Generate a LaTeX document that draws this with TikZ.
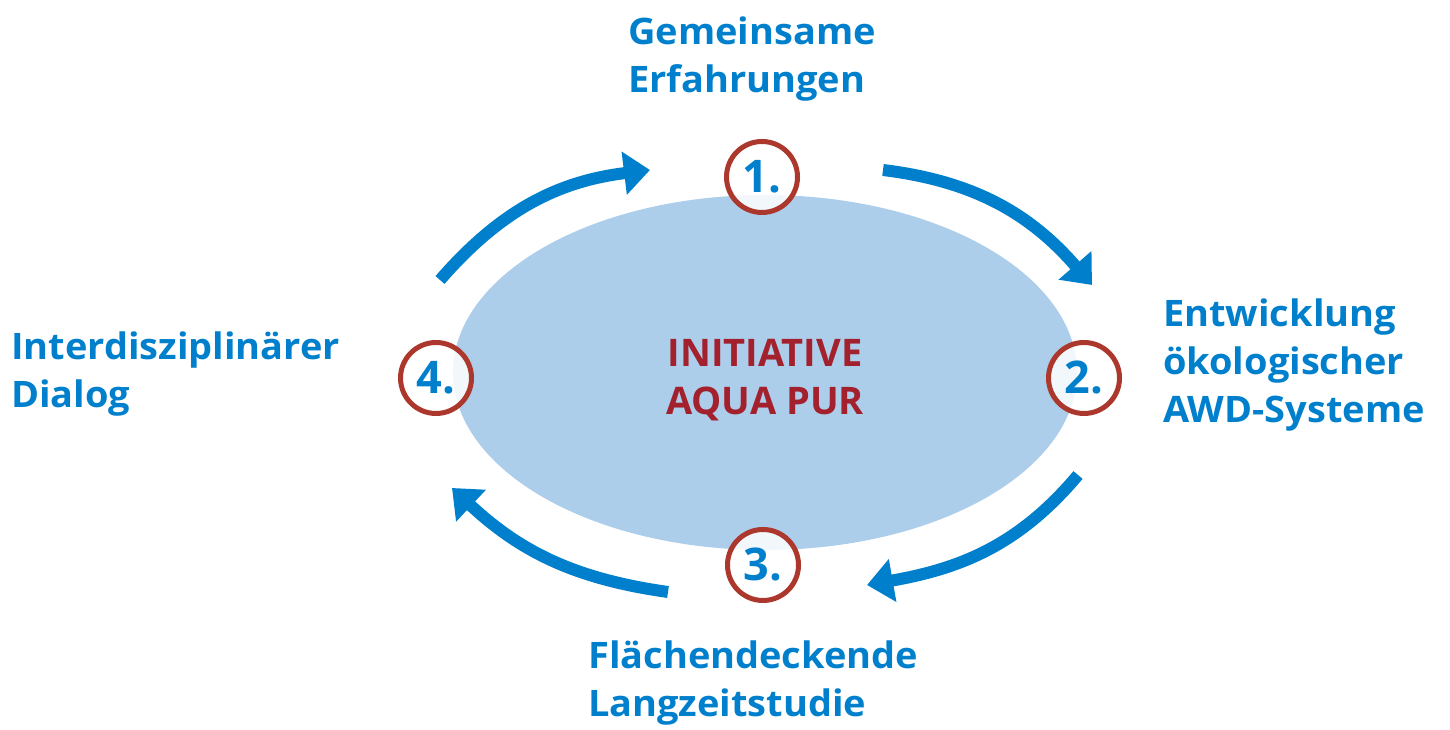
\documentclass[tikz,border=0pt]{standalone}
\usepackage{fontspec}
\setmainfont{Open Sans}
\newfontfamily\phasefont[FakeStretch=1.04]{Open Sans}
\usetikzlibrary{shapes.geometric, arrows.meta}
\usetikzlibrary{calc, positioning}
\definecolor{aquablue}{RGB}{0,128,204}
\definecolor{aquared}{RGB}{163,32,45}
\definecolor{ringred}{RGB}{172,56,45}
\definecolor{lake}{RGB}{173,206,234}
\tikzstyle{core} = [ellipse, minimum width=624pt, minimum height=355pt, inner sep=0pt, fill=lake]
\tikzstyle{title} = [text=aquared, align=center, inner sep=0pt, font=\bfseries\fontsize{38}{48}\selectfont]
\tikzstyle{num} = [circle, minimum size=71pt, inner sep=0pt, draw=ringred, line width=5pt, fill=white, fill opacity=0.85, text opacity=1, text=aquablue, font=\bfseries\fontsize{45}{45}\selectfont]
\tikzstyle{phase} = [inner sep=0pt, text=aquablue, align=left, font=\phasefont\bfseries\fontsize{36.5}{48}\selectfont]
\tikzstyle{arrow} = [line width=12pt, draw=aquablue, -{Triangle[length=26pt,width=42pt]}]

\begin{document}
\begin{tikzpicture}[x=1pt, y=1pt, node distance=195pt]
			\useasboundingbox (0,0) rectangle (1450,730);
			\node(aqua)[core] at (765,357.5) {};
			\node(name)[title, below of=aqua, node distance=8pt] {INITIATIVE\\AQUA PUR};
			\node(one)[num, above of=aqua, node distance=195.5pt, xshift=-3pt] {1.};
			\node(two)[num, right of=aqua, node distance=319pt, yshift=-5.5pt] {2.};
			\node(three)[num, below of=aqua, node distance=192.5pt, xshift=-2pt] {3.};
			\node(four)[num, left of=aqua, node distance=329pt, yshift=-5.5pt] {4.};

			% Labels
			\node(erf)[phase, above of=one, node distance=76pt, anchor=south west, xshift=-134pt] {Gemeinsame\\Erfahrungen};
			\node(awd)[phase, right of=two, node distance=79pt, anchor=west, yshift=12.5pt] {Entwicklung\\ökologischer\\AWD-Systeme};
			\node(lang)[phase, below of=three, node distance=76pt, anchor=north west, xshift=-175pt] {Flächendeckende\\Langzeitstudie};
			\node(dial)[phase, left of=four, node distance=96pt, anchor=east, yshift=4pt] {Interdisziplinärer\\Dialog};

			\coordinate (tail41) at ($(four)+(4,98)$);
			\coordinate (tip41) at ($(one)+(-112,7)$);
			\coordinate (tail12) at ($(one)+(121,7)$);
			\coordinate (tip12) at ($(two)+(8,93)$);
			\coordinate (tail23) at ($(two)+(-6,-97)$);
			\coordinate (tip23) at ($(three)+(104,-20)$);
			\coordinate (tail34) at ($(three)+(-95,-27)$);
			\coordinate (tip34) at ($(four)+(16,-110)$);

			\draw [arrow] (tail41) to[out=49, in=187] (tip41);
			\draw [arrow] (tail12) to[out=-7, in=131] (tip12);
			\draw [arrow] (tail23) to[out=230, in=10] (tip23);
			\draw [arrow] (tail34) to[out=172, in=-43] (tip34);
		\end{tikzpicture}
\end{document}
